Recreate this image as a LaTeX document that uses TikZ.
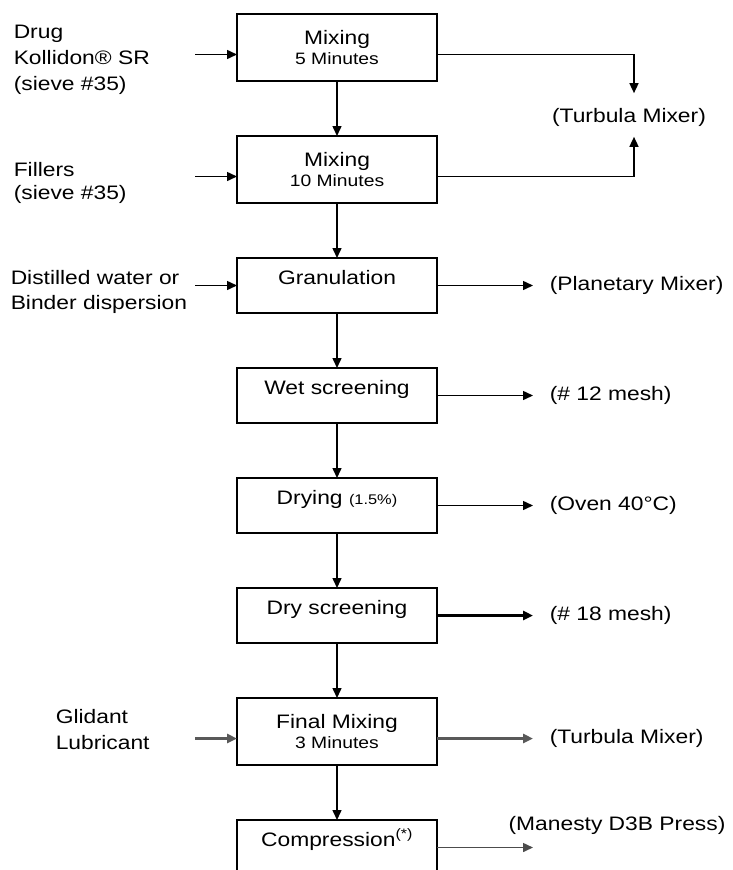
\documentclass[tikz,border=0pt]{standalone}
\usepackage{fontspec}
\setmainfont{Liberation Sans}[FakeStretch=1.17]
\usetikzlibrary{arrows.meta, positioning}

\newcommand\smalltxt[1]{{\fontsize{16.5}{20}\selectfont #1}}

\begin{document}
\begin{tikzpicture}[x=1pt,y=-1pt,->,>={Triangle[length=10pt,width=9pt]},
  line width=1.5pt,node distance=55pt,
  stage node/.style={rectangle,draw,line width=1.9pt,outer sep=0pt,minimum width=200pt,
    minimum height=67pt,align=center,font=\fontsize{19.5}{20}\selectfont},
  one line/.style={stage node,minimum height=55pt,text height=14pt,text depth=17pt},
  side node/.style={inner sep=0pt,align=left,font=\fontsize{19.5}{26}\selectfont},
  heavy/.style={line width=2.8pt}]
  \clip (0,0) rectangle (732,870);

  % process chain
  \node[stage node] (mix1) at (337,47.5) {Mixing\\\smalltxt{5 Minutes}};
  \node[stage node] (mix2) [below=of mix1] {Mixing\\\smalltxt{10 Minutes}};
  \node[one line] (gran) [below=of mix2] {Granulation};
  \node[one line] (wet) [below=of gran] {Wet screening};
  \node[one line] (dry) [below=of wet] {Drying {\fontsize{14}{16}\selectfont(1.5\%)}};
  \node[one line] (dscr) [below=of dry] {Dry screening};
  \node[stage node] (fmix) [below=of dscr] {Final Mixing\\\smalltxt{3 Minutes}};
  \node[one line] (comp) [below=of fmix] {Compression\textsuperscript{(*)}};
  \foreach \a/\b in {mix1/mix2,mix2/gran,gran/wet,wet/dry,dry/dscr,dscr/fmix,fmix/comp}
    \draw (\a) -- (\b);

  % inputs
  \node[side node,anchor=west] (drug) at (13,60) {Drug\\Kollidon® SR\\(sieve \#35)};
  \node[side node,anchor=west,font=\fontsize{19.5}{23}\selectfont] (fill) at (13,183) {Fillers\\(sieve \#35)};
  \node[side node,anchor=west,font=\fontsize{19.5}{25}\selectfont] (water) at (10,292) {Distilled water or\\Binder dispersion};
  \node[side node,anchor=west] (glid) at (55,730) {Glidant\\Lubricant};
  \draw ([xshift=-42pt,yshift=-7pt]mix1.west) -- ([yshift=-7pt]mix1.west);
  \draw ([xshift=-42pt,yshift=-7pt]mix2.west) -- ([yshift=-7pt]mix2.west);
  \draw ([xshift=-42pt]gran.west) -- (gran);
  \draw[heavy,black!65] ([xshift=-42pt,yshift=-7pt]fmix.west) -- ([yshift=-7pt]fmix.west);

  % equipment
  \node[side node] (tmix) at (629,117) {(Turbula Mixer)};
  \node[side node,right=112pt of gran] (planet) {(Planetary Mixer)};
  \node[side node,right=112pt of wet] (mesh12) {(\# 12 mesh)};
  \node[side node,right=112pt of dry] (oven) {(Oven 40°C)};
  \node[side node,right=112pt of dscr] (mesh18) {(\# 18 mesh)};
  \node[side node,right=112pt of fmix,yshift=-7pt] (tmix2) {(Turbula Mixer)};
  \node[side node] (press) at (617,825) {(Manesty D3B Press)};
  \draw[shorten >=14pt] ([yshift=-7pt]mix1.east) -| ([xshift=5pt]tmix.north);
  \draw[shorten >=10pt] ([yshift=-7pt]mix2.east) -| ([xshift=5pt]tmix.south);
  \draw[shorten >=16pt] (gran) -- (planet);
  \draw[shorten >=16pt] (wet) -- (mesh12);
  \draw[shorten >=16pt] (dry) -- (oven);
  \draw[heavy,shorten >=16pt] (dscr) -- (mesh18);
  \draw[heavy,black!65,shorten >=16pt] ([yshift=-7pt]fmix.east) -- (tmix2);
  \draw[black!70] (comp.east) -- ([xshift=96pt]comp.east);
\end{tikzpicture}
\end{document}
